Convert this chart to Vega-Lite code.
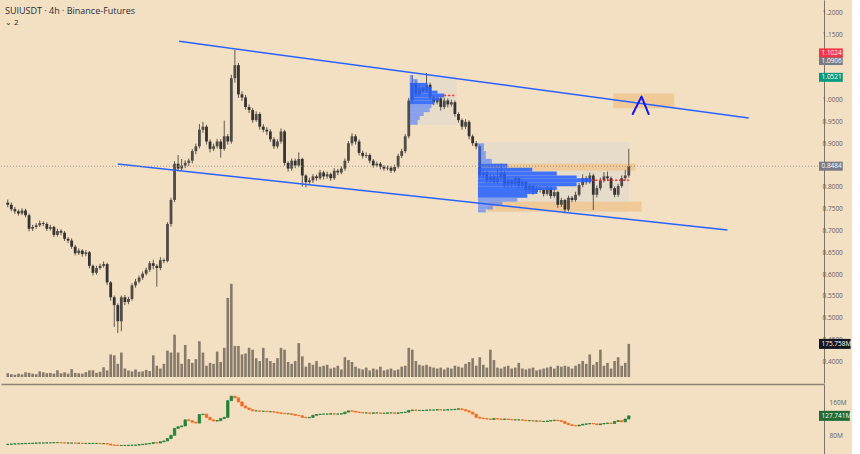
{
"$schema": "https://vega.github.io/schema/vega-lite/v6.json",
"background": "#f3dfc1",
"padding": 0,
"spacing": 1,
"config": {"view": {"stroke": null}, "font": "Open Sans", "axis": {"grid": false}},
"datasets": {
"candles": [
{"t":0,"open":0.765,"high":0.772,"low":0.754,"close":0.760,"volume":20,"oi_open":57.5,"oi_close":58},
{"t":1,"open":0.760,"high":0.765,"low":0.745,"close":0.750,"volume":15,"oi_open":58,"oi_close":58.5},
{"t":2,"open":0.750,"high":0.755,"low":0.739,"close":0.745,"volume":12,"oi_open":58.5,"oi_close":59},
{"t":3,"open":0.745,"high":0.749,"low":0.735,"close":0.740,"volume":18,"oi_open":59,"oi_close":59},
{"t":4,"open":0.740,"high":0.752,"low":0.736,"close":0.747,"volume":14,"oi_open":59,"oi_close":59.5},
{"t":5,"open":0.747,"high":0.751,"low":0.731,"close":0.736,"volume":25,"oi_open":59.5,"oi_close":60},
{"t":6,"open":0.736,"high":0.740,"low":0.699,"close":0.705,"volume":22,"oi_open":60,"oi_close":60},
{"t":7,"open":0.705,"high":0.714,"low":0.700,"close":0.709,"volume":18,"oi_open":60,"oi_close":60.5},
{"t":8,"open":0.709,"high":0.718,"low":0.705,"close":0.713,"volume":15,"oi_open":60.5,"oi_close":61},
{"t":9,"open":0.713,"high":0.724,"low":0.709,"close":0.718,"volume":30,"oi_open":61,"oi_close":61},
{"t":10,"open":0.718,"high":0.722,"low":0.711,"close":0.716,"volume":25,"oi_open":61,"oi_close":61},
{"t":11,"open":0.716,"high":0.720,"low":0.700,"close":0.705,"volume":20,"oi_open":61,"oi_close":61.5},
{"t":12,"open":0.705,"high":0.714,"low":0.701,"close":0.709,"volume":22,"oi_open":61.5,"oi_close":61.5},
{"t":13,"open":0.709,"high":0.712,"low":0.686,"close":0.691,"volume":18,"oi_open":61.5,"oi_close":62},
{"t":14,"open":0.691,"high":0.705,"low":0.687,"close":0.700,"volume":36,"oi_open":62,"oi_close":62},
{"t":15,"open":0.700,"high":0.704,"low":0.690,"close":0.696,"volume":20,"oi_open":62,"oi_close":61.5},
{"t":16,"open":0.696,"high":0.700,"low":0.677,"close":0.682,"volume":25,"oi_open":61.5,"oi_close":61},
{"t":17,"open":0.682,"high":0.686,"low":0.672,"close":0.678,"volume":18,"oi_open":61,"oi_close":61},
{"t":18,"open":0.678,"high":0.683,"low":0.659,"close":0.664,"volume":42,"oi_open":61,"oi_close":61},
{"t":19,"open":0.664,"high":0.668,"low":0.644,"close":0.649,"volume":22,"oi_open":61,"oi_close":60.5},
{"t":20,"open":0.649,"high":0.660,"low":0.645,"close":0.655,"volume":20,"oi_open":60.5,"oi_close":60.5},
{"t":21,"open":0.655,"high":0.658,"low":0.641,"close":0.647,"volume":18,"oi_open":60.5,"oi_close":60},
{"t":22,"open":0.647,"high":0.656,"low":0.642,"close":0.651,"volume":26,"oi_open":60,"oi_close":60},
{"t":23,"open":0.651,"high":0.654,"low":0.614,"close":0.620,"volume":35,"oi_open":60,"oi_close":60},
{"t":24,"open":0.620,"high":0.623,"low":0.598,"close":0.604,"volume":36,"oi_open":60,"oi_close":60},
{"t":25,"open":0.604,"high":0.620,"low":0.600,"close":0.615,"volume":22,"oi_open":60,"oi_close":60},
{"t":26,"open":0.615,"high":0.625,"low":0.611,"close":0.620,"volume":28,"oi_open":60,"oi_close":59.5},
{"t":27,"open":0.620,"high":0.630,"low":0.616,"close":0.624,"volume":52,"oi_open":59.5,"oi_close":59.5},
{"t":28,"open":0.624,"high":0.627,"low":0.576,"close":0.582,"volume":35,"oi_open":59.5,"oi_close":58.5},
{"t":29,"open":0.582,"high":0.585,"low":0.540,"close":0.548,"volume":120,"oi_open":58.5,"oi_close":56},
{"t":30,"open":0.548,"high":0.552,"low":0.480,"close":0.530,"volume":115,"oi_open":56,"oi_close":55.5},
{"t":31,"open":0.530,"high":0.534,"low":0.466,"close":0.493,"volume":70,"oi_open":55.5,"oi_close":55},
{"t":32,"open":0.493,"high":0.552,"low":0.470,"close":0.548,"volume":130,"oi_open":55,"oi_close":55},
{"t":33,"open":0.548,"high":0.553,"low":0.530,"close":0.537,"volume":45,"oi_open":55,"oi_close":55},
{"t":34,"open":0.537,"high":0.549,"low":0.532,"close":0.544,"volume":35,"oi_open":55,"oi_close":55.5},
{"t":35,"open":0.544,"high":0.580,"low":0.540,"close":0.575,"volume":30,"oi_open":55.5,"oi_close":55.5},
{"t":36,"open":0.575,"high":0.590,"low":0.570,"close":0.584,"volume":40,"oi_open":55.5,"oi_close":56},
{"t":37,"open":0.584,"high":0.598,"low":0.580,"close":0.593,"volume":28,"oi_open":56,"oi_close":57},
{"t":38,"open":0.593,"high":0.607,"low":0.588,"close":0.602,"volume":30,"oi_open":57,"oi_close":58},
{"t":39,"open":0.602,"high":0.616,"low":0.598,"close":0.611,"volume":38,"oi_open":58,"oi_close":59},
{"t":40,"open":0.611,"high":0.631,"low":0.606,"close":0.626,"volume":32,"oi_open":59,"oi_close":60},
{"t":41,"open":0.626,"high":0.634,"low":0.612,"close":0.620,"volume":115,"oi_open":60,"oi_close":62},
{"t":42,"open":0.620,"high":0.624,"low":0.572,"close":0.615,"volume":60,"oi_open":62,"oi_close":61},
{"t":43,"open":0.615,"high":0.640,"low":0.610,"close":0.633,"volume":45,"oi_open":61,"oi_close":64},
{"t":44,"open":0.633,"high":0.637,"low":0.626,"close":0.631,"volume":70,"oi_open":64,"oi_close":66},
{"t":45,"open":0.631,"high":0.720,"low":0.628,"close":0.716,"volume":140,"oi_open":66,"oi_close":72},
{"t":46,"open":0.716,"high":0.776,"low":0.710,"close":0.771,"volume":130,"oi_open":72,"oi_close":80},
{"t":47,"open":0.771,"high":0.860,"low":0.766,"close":0.854,"volume":225,"oi_open":80,"oi_close":97},
{"t":48,"open":0.854,"high":0.874,"low":0.838,"close":0.843,"volume":130,"oi_open":97,"oi_close":101},
{"t":49,"open":0.843,"high":0.865,"low":0.838,"close":0.850,"volume":70,"oi_open":101,"oi_close":103},
{"t":50,"open":0.850,"high":0.862,"low":0.844,"close":0.856,"volume":170,"oi_open":103,"oi_close":118},
{"t":51,"open":0.856,"high":0.866,"low":0.849,"close":0.861,"volume":95,"oi_open":118,"oi_close":116},
{"t":52,"open":0.861,"high":0.888,"low":0.855,"close":0.883,"volume":75,"oi_open":116,"oi_close":112},
{"t":53,"open":0.883,"high":0.900,"low":0.876,"close":0.894,"volume":95,"oi_open":112,"oi_close":110},
{"t":54,"open":0.894,"high":0.945,"low":0.889,"close":0.932,"volume":190,"oi_open":110,"oi_close":131},
{"t":55,"open":0.932,"high":0.950,"low":0.925,"close":0.939,"volume":130,"oi_open":131,"oi_close":132},
{"t":56,"open":0.939,"high":0.943,"low":0.898,"close":0.905,"volume":60,"oi_open":132,"oi_close":124},
{"t":57,"open":0.905,"high":0.910,"low":0.880,"close":0.888,"volume":75,"oi_open":124,"oi_close":118},
{"t":58,"open":0.888,"high":0.900,"low":0.883,"close":0.894,"volume":70,"oi_open":118,"oi_close":115},
{"t":59,"open":0.894,"high":0.911,"low":0.889,"close":0.905,"volume":135,"oi_open":115,"oi_close":116},
{"t":60,"open":0.905,"high":0.910,"low":0.868,"close":0.888,"volume":80,"oi_open":116,"oi_close":121},
{"t":61,"open":0.888,"high":0.953,"low":0.884,"close":0.917,"volume":155,"oi_open":121,"oi_close":124},
{"t":62,"open":0.917,"high":0.922,"low":0.898,"close":0.905,"volume":420,"oi_open":124,"oi_close":165},
{"t":63,"open":0.905,"high":1.058,"low":0.900,"close":1.050,"volume":495,"oi_open":165,"oi_close":176},
{"t":64,"open":1.050,"high":1.115,"low":1.040,"close":1.080,"volume":165,"oi_open":176,"oi_close":172},
{"t":65,"open":1.080,"high":1.085,"low":1.005,"close":1.013,"volume":165,"oi_open":172,"oi_close":162},
{"t":66,"open":1.013,"high":1.020,"low":0.998,"close":1.006,"volume":120,"oi_open":162,"oi_close":152},
{"t":67,"open":1.006,"high":1.012,"low":0.978,"close":0.984,"volume":125,"oi_open":152,"oi_close":147},
{"t":68,"open":0.984,"high":0.990,"low":0.970,"close":0.977,"volume":155,"oi_open":147,"oi_close":143},
{"t":69,"open":0.977,"high":0.982,"low":0.948,"close":0.954,"volume":145,"oi_open":143,"oi_close":140},
{"t":70,"open":0.954,"high":0.974,"low":0.950,"close":0.968,"volume":100,"oi_open":140,"oi_close":140},
{"t":71,"open":0.968,"high":0.972,"low":0.932,"close":0.939,"volume":85,"oi_open":140,"oi_close":139},
{"t":72,"open":0.939,"high":0.945,"low":0.926,"close":0.932,"volume":155,"oi_open":139,"oi_close":139},
{"t":73,"open":0.932,"high":0.938,"low":0.920,"close":0.928,"volume":100,"oi_open":139,"oi_close":138},
{"t":74,"open":0.928,"high":0.933,"low":0.904,"close":0.910,"volume":85,"oi_open":138,"oi_close":138},
{"t":75,"open":0.910,"high":0.915,"low":0.888,"close":0.894,"volume":75,"oi_open":138,"oi_close":137},
{"t":76,"open":0.894,"high":0.910,"low":0.889,"close":0.905,"volume":100,"oi_open":137,"oi_close":135},
{"t":77,"open":0.905,"high":0.935,"low":0.900,"close":0.928,"volume":155,"oi_open":135,"oi_close":134},
{"t":78,"open":0.928,"high":0.932,"low":0.850,"close":0.856,"volume":145,"oi_open":134,"oi_close":133},
{"t":79,"open":0.856,"high":0.860,"low":0.836,"close":0.843,"volume":80,"oi_open":133,"oi_close":133},
{"t":80,"open":0.843,"high":0.866,"low":0.838,"close":0.861,"volume":70,"oi_open":133,"oi_close":131},
{"t":81,"open":0.861,"high":0.866,"low":0.844,"close":0.850,"volume":85,"oi_open":131,"oi_close":129},
{"t":82,"open":0.850,"high":0.880,"low":0.846,"close":0.865,"volume":180,"oi_open":129,"oi_close":128},
{"t":83,"open":0.865,"high":0.868,"low":0.802,"close":0.827,"volume":110,"oi_open":128,"oi_close":124},
{"t":84,"open":0.827,"high":0.830,"low":0.800,"close":0.812,"volume":55,"oi_open":124,"oi_close":123},
{"t":85,"open":0.812,"high":0.822,"low":0.806,"close":0.816,"volume":75,"oi_open":123,"oi_close":124},
{"t":86,"open":0.816,"high":0.830,"low":0.810,"close":0.825,"volume":65,"oi_open":124,"oi_close":129},
{"t":87,"open":0.825,"high":0.829,"low":0.815,"close":0.821,"volume":85,"oi_open":129,"oi_close":131},
{"t":88,"open":0.821,"high":0.840,"low":0.817,"close":0.834,"volume":55,"oi_open":131,"oi_close":132},
{"t":89,"open":0.834,"high":0.838,"low":0.818,"close":0.825,"volume":60,"oi_open":132,"oi_close":132},
{"t":90,"open":0.825,"high":0.836,"low":0.820,"close":0.830,"volume":65,"oi_open":132,"oi_close":132},
{"t":91,"open":0.830,"high":0.834,"low":0.815,"close":0.821,"volume":45,"oi_open":132,"oi_close":133},
{"t":92,"open":0.821,"high":0.844,"low":0.817,"close":0.838,"volume":50,"oi_open":133,"oi_close":132},
{"t":93,"open":0.838,"high":0.842,"low":0.828,"close":0.834,"volume":60,"oi_open":132,"oi_close":132},
{"t":94,"open":0.834,"high":0.848,"low":0.830,"close":0.843,"volume":40,"oi_open":132,"oi_close":133},
{"t":95,"open":0.843,"high":0.866,"low":0.838,"close":0.861,"volume":105,"oi_open":133,"oi_close":137},
{"t":96,"open":0.861,"high":0.906,"low":0.856,"close":0.901,"volume":90,"oi_open":137,"oi_close":140},
{"t":97,"open":0.901,"high":0.924,"low":0.895,"close":0.917,"volume":80,"oi_open":140,"oi_close":139},
{"t":98,"open":0.917,"high":0.922,"low":0.898,"close":0.905,"volume":55,"oi_open":139,"oi_close":137},
{"t":99,"open":0.905,"high":0.910,"low":0.873,"close":0.879,"volume":45,"oi_open":137,"oi_close":136},
{"t":100,"open":0.879,"high":0.884,"low":0.866,"close":0.872,"volume":40,"oi_open":136,"oi_close":135},
{"t":101,"open":0.872,"high":0.880,"low":0.867,"close":0.874,"volume":50,"oi_open":135,"oi_close":135},
{"t":102,"open":0.874,"high":0.878,"low":0.855,"close":0.861,"volume":35,"oi_open":135,"oi_close":134},
{"t":103,"open":0.861,"high":0.865,"low":0.845,"close":0.850,"volume":45,"oi_open":134,"oi_close":135},
{"t":104,"open":0.850,"high":0.859,"low":0.846,"close":0.854,"volume":40,"oi_open":135,"oi_close":135},
{"t":105,"open":0.854,"high":0.858,"low":0.841,"close":0.847,"volume":55,"oi_open":135,"oi_close":134},
{"t":106,"open":0.847,"high":0.851,"low":0.838,"close":0.843,"volume":35,"oi_open":134,"oi_close":134},
{"t":107,"open":0.843,"high":0.850,"low":0.839,"close":0.845,"volume":40,"oi_open":134,"oi_close":135},
{"t":108,"open":0.845,"high":0.849,"low":0.833,"close":0.838,"volume":45,"oi_open":135,"oi_close":135},
{"t":109,"open":0.838,"high":0.852,"low":0.834,"close":0.847,"volume":35,"oi_open":135,"oi_close":134},
{"t":110,"open":0.847,"high":0.877,"low":0.843,"close":0.872,"volume":40,"oi_open":134,"oi_close":135},
{"t":111,"open":0.872,"high":0.888,"low":0.867,"close":0.883,"volume":55,"oi_open":135,"oi_close":136},
{"t":112,"open":0.883,"high":0.922,"low":0.878,"close":0.917,"volume":60,"oi_open":136,"oi_close":137},
{"t":113,"open":0.917,"high":1.005,"low":0.912,"close":0.999,"volume":155,"oi_open":137,"oi_close":141},
{"t":114,"open":0.999,"high":1.057,"low":0.993,"close":1.039,"volume":145,"oi_open":141,"oi_close":142},
{"t":115,"open":1.039,"high":1.045,"low":1.006,"close":1.013,"volume":85,"oi_open":142,"oi_close":141},
{"t":116,"open":1.013,"high":1.034,"low":1.008,"close":1.028,"volume":65,"oi_open":141,"oi_close":141},
{"t":117,"open":1.028,"high":1.033,"low":1.015,"close":1.021,"volume":60,"oi_open":141,"oi_close":141},
{"t":118,"open":1.021,"high":1.062,"low":1.016,"close":1.035,"volume":65,"oi_open":141,"oi_close":142},
{"t":119,"open":1.035,"high":1.040,"low":1.000,"close":1.006,"volume":55,"oi_open":142,"oi_close":142},
{"t":120,"open":1.006,"high":1.011,"low":0.988,"close":0.995,"volume":50,"oi_open":142,"oi_close":142},
{"t":121,"open":0.995,"high":1.010,"low":0.990,"close":1.004,"volume":45,"oi_open":142,"oi_close":143},
{"t":122,"open":1.004,"high":1.008,"low":0.976,"close":0.984,"volume":50,"oi_open":143,"oi_close":142},
{"t":123,"open":0.984,"high":1.005,"low":0.979,"close":0.999,"volume":40,"oi_open":142,"oi_close":142},
{"t":124,"open":0.999,"high":1.004,"low":0.983,"close":0.990,"volume":50,"oi_open":142,"oi_close":143},
{"t":125,"open":0.990,"high":1.001,"low":0.985,"close":0.995,"volume":45,"oi_open":143,"oi_close":143},
{"t":126,"open":0.995,"high":0.999,"low":0.962,"close":0.968,"volume":60,"oi_open":143,"oi_close":144},
{"t":127,"open":0.968,"high":0.972,"low":0.948,"close":0.954,"volume":55,"oi_open":144,"oi_close":145},
{"t":128,"open":0.954,"high":0.958,"low":0.932,"close":0.939,"volume":50,"oi_open":145,"oi_close":143},
{"t":129,"open":0.939,"high":0.956,"low":0.934,"close":0.950,"volume":70,"oi_open":143,"oi_close":140},
{"t":130,"open":0.950,"high":0.954,"low":0.910,"close":0.917,"volume":80,"oi_open":140,"oi_close":137},
{"t":131,"open":0.917,"high":0.921,"low":0.895,"close":0.901,"volume":100,"oi_open":137,"oi_close":132},
{"t":132,"open":0.901,"high":0.906,"low":0.887,"close":0.894,"volume":60,"oi_open":132,"oi_close":124},
{"t":133,"open":0.894,"high":0.898,"low":0.820,"close":0.827,"volume":105,"oi_open":124,"oi_close":122},
{"t":134,"open":0.827,"high":0.840,"low":0.820,"close":0.834,"volume":65,"oi_open":122,"oi_close":121},
{"t":135,"open":0.834,"high":0.838,"low":0.810,"close":0.816,"volume":50,"oi_open":121,"oi_close":120},
{"t":136,"open":0.816,"high":0.831,"low":0.810,"close":0.825,"volume":145,"oi_open":120,"oi_close":119},
{"t":137,"open":0.825,"high":0.829,"low":0.806,"close":0.812,"volume":90,"oi_open":119,"oi_close":121},
{"t":138,"open":0.812,"high":0.843,"low":0.807,"close":0.821,"volume":50,"oi_open":121,"oi_close":120},
{"t":139,"open":0.821,"high":0.854,"low":0.816,"close":0.834,"volume":45,"oi_open":120,"oi_close":119},
{"t":140,"open":0.834,"high":0.838,"low":0.799,"close":0.805,"volume":55,"oi_open":119,"oi_close":120},
{"t":141,"open":0.805,"high":0.822,"low":0.800,"close":0.816,"volume":60,"oi_open":120,"oi_close":119},
{"t":142,"open":0.816,"high":0.820,"low":0.801,"close":0.807,"volume":45,"oi_open":119,"oi_close":118},
{"t":143,"open":0.807,"high":0.826,"low":0.802,"close":0.821,"volume":50,"oi_open":118,"oi_close":118},
{"t":144,"open":0.821,"high":0.825,"low":0.797,"close":0.803,"volume":75,"oi_open":118,"oi_close":118},
{"t":145,"open":0.803,"high":0.818,"low":0.798,"close":0.812,"volume":45,"oi_open":118,"oi_close":117},
{"t":146,"open":0.812,"high":0.816,"low":0.788,"close":0.794,"volume":40,"oi_open":117,"oi_close":116},
{"t":147,"open":0.794,"high":0.808,"low":0.789,"close":0.803,"volume":45,"oi_open":116,"oi_close":116},
{"t":148,"open":0.803,"high":0.807,"low":0.783,"close":0.789,"volume":50,"oi_open":116,"oi_close":115},
{"t":149,"open":0.789,"high":0.803,"low":0.785,"close":0.798,"volume":35,"oi_open":115,"oi_close":115},
{"t":150,"open":0.798,"high":0.802,"low":0.788,"close":0.794,"volume":40,"oi_open":115,"oi_close":114},
{"t":151,"open":0.794,"high":0.798,"low":0.779,"close":0.785,"volume":45,"oi_open":114,"oi_close":114},
{"t":152,"open":0.785,"high":0.803,"low":0.781,"close":0.798,"volume":50,"oi_open":114,"oi_close":115},
{"t":153,"open":0.798,"high":0.802,"low":0.774,"close":0.780,"volume":55,"oi_open":115,"oi_close":116},
{"t":154,"open":0.780,"high":0.795,"low":0.776,"close":0.789,"volume":45,"oi_open":116,"oi_close":117},
{"t":155,"open":0.789,"high":0.792,"low":0.753,"close":0.760,"volume":60,"oi_open":117,"oi_close":116},
{"t":156,"open":0.760,"high":0.776,"low":0.755,"close":0.771,"volume":55,"oi_open":116,"oi_close":114},
{"t":157,"open":0.771,"high":0.774,"low":0.740,"close":0.749,"volume":60,"oi_open":114,"oi_close":109},
{"t":158,"open":0.749,"high":0.781,"low":0.745,"close":0.776,"volume":55,"oi_open":109,"oi_close":106},
{"t":159,"open":0.776,"high":0.780,"low":0.766,"close":0.771,"volume":45,"oi_open":106,"oi_close":104},
{"t":160,"open":0.771,"high":0.790,"low":0.767,"close":0.783,"volume":60,"oi_open":104,"oi_close":103},
{"t":161,"open":0.783,"high":0.810,"low":0.779,"close":0.805,"volume":70,"oi_open":103,"oi_close":105},
{"t":162,"open":0.805,"high":0.830,"low":0.800,"close":0.821,"volume":85,"oi_open":105,"oi_close":107},
{"t":163,"open":0.821,"high":0.826,"low":0.806,"close":0.812,"volume":70,"oi_open":107,"oi_close":108},
{"t":164,"open":0.812,"high":0.834,"low":0.808,"close":0.827,"volume":120,"oi_open":108,"oi_close":109},
{"t":165,"open":0.827,"high":0.831,"low":0.748,"close":0.783,"volume":65,"oi_open":109,"oi_close":108},
{"t":166,"open":0.783,"high":0.804,"low":0.777,"close":0.798,"volume":80,"oi_open":108,"oi_close":106},
{"t":167,"open":0.798,"high":0.822,"low":0.793,"close":0.816,"volume":145,"oi_open":106,"oi_close":108},
{"t":168,"open":0.816,"high":0.835,"low":0.811,"close":0.825,"volume":60,"oi_open":108,"oi_close":109},
{"t":169,"open":0.825,"high":0.836,"low":0.815,"close":0.821,"volume":75,"oi_open":109,"oi_close":110},
{"t":170,"open":0.821,"high":0.825,"low":0.792,"close":0.798,"volume":45,"oi_open":110,"oi_close":109},
{"t":171,"open":0.798,"high":0.802,"low":0.777,"close":0.783,"volume":85,"oi_open":109,"oi_close":114},
{"t":172,"open":0.783,"high":0.808,"low":0.778,"close":0.803,"volume":105,"oi_open":114,"oi_close":116},
{"t":173,"open":0.803,"high":0.827,"low":0.799,"close":0.821,"volume":60,"oi_open":116,"oi_close":113},
{"t":174,"open":0.821,"high":0.840,"low":0.816,"close":0.827,"volume":75,"oi_open":113,"oi_close":120},
{"t":175,"open":0.827,"high":0.888,"low":0.822,"close":0.8484,"volume":175.758,"oi_open":120,"oi_close":127.741}
],
"profile": [
{"profile":1,"t0":113.3,"t1":114.1,"p0":1.0572,"p1":1.0483,"va":"out"},
{"profile":1,"t0":113.3,"t1":115.5,"p0":1.0483,"p1":1.0393,"va":"out"},
{"profile":1,"t0":113.3,"t1":118.3,"p0":1.0393,"p1":1.0304,"va":"in"},
{"profile":1,"t0":113.3,"t1":119.4,"p0":1.0304,"p1":1.0215,"va":"in"},
{"profile":1,"t0":113.3,"t1":121.1,"p0":1.0215,"p1":1.0148,"va":"in"},
{"profile":1,"t0":113.3,"t1":123.0,"p0":1.0148,"p1":1.0058,"va":"in"},
{"profile":1,"t0":113.3,"t1":121.6,"p0":1.0058,"p1":0.9992,"va":"in"},
{"profile":1,"t0":113.3,"t1":120.2,"p0":0.9992,"p1":0.9902,"va":"in"},
{"profile":1,"t0":113.3,"t1":119.4,"p0":0.9902,"p1":0.9813,"va":"out"},
{"profile":1,"t0":113.3,"t1":118.9,"p0":0.9813,"p1":0.9723,"va":"out"},
{"profile":1,"t0":113.3,"t1":117.2,"p0":0.9723,"p1":0.9634,"va":"out"},
{"profile":1,"t0":113.3,"t1":116.1,"p0":0.9634,"p1":0.9545,"va":"out"},
{"profile":1,"t0":113.3,"t1":115.5,"p0":0.9545,"p1":0.9433,"va":"out"},
{"profile":2,"t0":132.5,"t1":134.2,"p0":0.9009,"p1":0.8831,"va":"out"},
{"profile":2,"t0":132.5,"t1":134.7,"p0":0.8831,"p1":0.8652,"va":"out"},
{"profile":2,"t0":132.5,"t1":136.4,"p0":0.8652,"p1":0.8541,"va":"out"},
{"profile":2,"t0":132.5,"t1":140.8,"p0":0.8541,"p1":0.8451,"va":"in"},
{"profile":2,"t0":132.5,"t1":147.8,"p0":0.8451,"p1":0.8362,"va":"in"},
{"profile":2,"t0":132.5,"t1":154.7,"p0":0.8362,"p1":0.8273,"va":"in"},
{"profile":2,"t0":132.5,"t1":160.3,"p0":0.8273,"p1":0.8206,"va":"in"},
{"profile":2,"t0":132.5,"t1":164.4,"p0":0.8206,"p1":0.8117,"va":"in"},
{"profile":2,"t0":132.5,"t1":160.3,"p0":0.8117,"p1":0.8027,"va":"in"},
{"profile":2,"t0":132.5,"t1":154.7,"p0":0.8027,"p1":0.7938,"va":"in"},
{"profile":2,"t0":132.5,"t1":149.2,"p0":0.7938,"p1":0.7849,"va":"in"},
{"profile":2,"t0":132.5,"t1":146.4,"p0":0.7849,"p1":0.7759,"va":"in"},
{"profile":2,"t0":132.5,"t1":143.6,"p0":0.7759,"p1":0.7670,"va":"out"},
{"profile":2,"t0":132.5,"t1":139.4,"p0":0.7670,"p1":0.7581,"va":"out"},
{"profile":2,"t0":132.5,"t1":136.7,"p0":0.7581,"p1":0.7491,"va":"out"},
{"profile":2,"t0":132.5,"t1":134.7,"p0":0.7491,"p1":0.7425,"va":"out"}
],
"zones": [
{"kind":"range","t0":113.3,"t1":126.4,"p0":1.0572,"p1":0.9433},
{"kind":"range","t0":132.5,"t1":175.0,"p0":0.9032,"p1":0.7425},
{"kind":"zone","t0":132.5,"t1":176.9,"p0":0.8541,"p1":0.8385},
{"kind":"zone","t0":135.3,"t1":178.6,"p0":0.7670,"p1":0.7447},
{"kind":"zone","t0":170.6,"t1":187.8,"p0":1.0148,"p1":0.9813}
],
"poc": [
{"profile":1,"t0":123.0,"t1":126.4,"price":1.0103},
{"profile":2,"t0":164.4,"t1":175.0,"price":0.8161}
],
"last": [{"price":0.8484}],
"channel": [
{"line":"upper","t":48.3,"price":1.1346},
{"line":"upper","t":208.8,"price":0.959},
{"line":"lower","t":31.0,"price":0.8534},
{"line":"lower","t":202.8,"price":0.7023}
],
"marker": [
{"step":1,"t":176.1,"price":0.9679},
{"step":2,"t":178.6,"price":1.0081},
{"step":3,"t":180.6,"price":0.9679}
],
"price_labels": [
{"price":0.40},{"price":0.45},{"price":0.50},{"price":0.55},{"price":0.60},{"price":0.65},{"price":0.70},{"price":0.75},{"price":0.80},{"price":0.90},{"price":0.95},{"price":1.00},{"price":1.15},{"price":1.20}
],
"tags": [
{"label":"1.1024","price":1.1024,"kind":"high"},
{"label":"1.0906","price":1.0906,"kind":"level"},
{"label":"1.0521","price":1.0521,"kind":"open"},
{"label":"0.8484","price":0.8484,"kind":"level"}
],
"volume_tag": [{"label":"175.758M","volume":175.758}],
"oi_tag": [{"label":"127.741M","oi":127.741}]
},
"vconcat": [
{
"width": 823,
"height": 383,
"title": {"text": "SUIUSDT · 4h · Binance-Futures", "subtitle": "⌄ 2", "anchor": "start", "frame": "group", "offset": -27, "dx": 4, "fontSize": 9, "fontWeight": "normal", "color": "#2a2e39", "subtitleFontSize": 8, "subtitleColor": "#2a2e39", "subtitlePadding": 3},
"resolve": {"scale": {"y": "independent"}},
"layer": [
{
"layer": [
{"data": {"name": "zones"}, "mark": {"type": "rect"},
 "encoding": {
  "x": {"field": "t0", "type": "quantitative", "scale": {"domain": [-0.5, 228.6], "nice": false, "zero": false}, "axis": null},
  "x2": {"field": "t1"},
  "y": {"field": "p0", "type": "quantitative", "scale": {"domain": [0.3629, 1.2179], "nice": false, "zero": false},
   "axis": {"orient": "right", "labels": false, "ticks": false, "domain": true, "domainColor": "#7d756a", "domainWidth": 1, "grid": false, "title": null}},
  "y2": {"field": "p1"},
  "color": {"condition": {"test": "datum.kind == 'zone'", "value": "#f0c58e"}, "value": "#e5dccb"},
  "opacity": {"condition": {"test": "datum.kind == 'zone'", "value": 0.85}, "value": 0.9}}},
{"data": {"name": "price_labels"}, "mark": {"type": "text", "align": "left", "baseline": "middle", "fontSize": 6.5, "color": "#5d606b"},
 "encoding": {
  "x": {"datum": 229.6, "type": "quantitative", "scale": {"domain": [-0.5, 228.6], "nice": false, "zero": false}, "axis": null},
  "y": {"field": "price", "type": "quantitative", "scale": {"domain": [0.3629, 1.2179], "nice": false, "zero": false}},
  "text": {"field": "price", "type": "quantitative", "format": ".4f"}}},
{"data": {"name": "candles"}, "mark": {"type": "rule", "color": "#5e5850", "strokeWidth": 1},
 "encoding": {
  "x": {"field": "t", "type": "quantitative", "scale": {"domain": [-0.5, 228.6], "nice": false, "zero": false}, "axis": null},
  "y": {"field": "low", "type": "quantitative", "scale": {"domain": [0.3629, 1.2179], "nice": false, "zero": false}},
  "y2": {"field": "high"}}},
{"data": {"name": "candles"}, "mark": {"type": "bar", "size": 2.8},
 "encoding": {
  "x": {"field": "t", "type": "quantitative", "scale": {"domain": [-0.5, 228.6], "nice": false, "zero": false}, "axis": null},
  "y": {"field": "open", "type": "quantitative", "scale": {"domain": [0.3629, 1.2179], "nice": false, "zero": false}},
  "y2": {"field": "close"},
  "color": {"condition": {"test": "datum.close >= datum.open", "value": "#4f4b47"}, "value": "#333333"}}},
{"data": {"name": "profile"}, "mark": {"type": "rect"},
 "encoding": {
  "x": {"field": "t0", "type": "quantitative", "scale": {"domain": [-0.5, 228.6], "nice": false, "zero": false}, "axis": null},
  "x2": {"field": "t1"},
  "y": {"field": "p0", "type": "quantitative", "scale": {"domain": [0.3629, 1.2179], "nice": false, "zero": false}},
  "y2": {"field": "p1"},
  "color": {"condition": {"test": "datum.va == 'in'", "value": "#2962ff"}, "value": "#4a78ff"},
  "opacity": {"condition": {"test": "datum.va == 'in'", "value": 0.88}, "value": 0.6}}},
{"data": {"name": "channel"}, "mark": {"type": "line", "color": "#2962ff", "strokeWidth": 1.5},
 "encoding": {
  "x": {"field": "t", "type": "quantitative", "scale": {"domain": [-0.5, 228.6], "nice": false, "zero": false}, "axis": null},
  "y": {"field": "price", "type": "quantitative", "scale": {"domain": [0.3629, 1.2179], "nice": false, "zero": false}},
  "detail": {"field": "line"}}},
{"data": {"name": "poc"}, "mark": {"type": "rule", "color": "#ff1f1f", "strokeWidth": 1.5, "strokeDash": [2, 2]},
 "encoding": {
  "x": {"field": "t0", "type": "quantitative", "scale": {"domain": [-0.5, 228.6], "nice": false, "zero": false}, "axis": null},
  "x2": {"field": "t1"},
  "y": {"field": "price", "type": "quantitative", "scale": {"domain": [0.3629, 1.2179], "nice": false, "zero": false}}}},
{"data": {"name": "last"}, "mark": {"type": "rule", "color": "#9b958c", "strokeWidth": 1, "strokeDash": [1, 2]},
 "encoding": {
  "y": {"field": "price", "type": "quantitative", "scale": {"domain": [0.3629, 1.2179], "nice": false, "zero": false}}}},
{"data": {"name": "marker"}, "mark": {"type": "line", "color": "#1515ee", "strokeWidth": 2, "strokeCap": "round", "strokeJoin": "round"},
 "encoding": {
  "x": {"field": "t", "type": "quantitative", "scale": {"domain": [-0.5, 228.6], "nice": false, "zero": false}, "axis": null},
  "y": {"field": "price", "type": "quantitative", "scale": {"domain": [0.3629, 1.2179], "nice": false, "zero": false}},
  "order": {"field": "step"}}},
{"data": {"name": "tags"}, "transform": [{"filter": "datum.kind != 'high'"}], "mark": {"type": "bar", "size": 9},
 "encoding": {
  "x": {"datum": 228.6, "type": "quantitative", "scale": {"domain": [-0.5, 228.6], "nice": false, "zero": false}, "axis": null},
  "x2": {"datum": 235.3},
  "y": {"field": "price", "type": "quantitative", "scale": {"domain": [0.3629, 1.2179], "nice": false, "zero": false}},
  "color": {"condition": {"test": "datum.kind == 'open'", "value": "#089981"}, "value": "#787b86"}}},
{"data": {"name": "tags"}, "transform": [{"filter": "datum.kind != 'high'"}], "mark": {"type": "text", "align": "left", "baseline": "middle", "fontSize": 6.5, "color": "#ffffff"},
 "encoding": {
  "x": {"datum": 229.3, "type": "quantitative", "scale": {"domain": [-0.5, 228.6], "nice": false, "zero": false}, "axis": null},
  "y": {"field": "price", "type": "quantitative", "scale": {"domain": [0.3629, 1.2179], "nice": false, "zero": false}},
  "text": {"field": "label"}}},
{"data": {"name": "tags"}, "transform": [{"filter": "datum.kind == 'high'"}], "mark": {"type": "bar", "size": 9, "yOffset": -2.5, "color": "#f23645"},
 "encoding": {
  "x": {"datum": 228.6, "type": "quantitative", "scale": {"domain": [-0.5, 228.6], "nice": false, "zero": false}, "axis": null},
  "x2": {"datum": 235.3},
  "y": {"field": "price", "type": "quantitative", "scale": {"domain": [0.3629, 1.2179], "nice": false, "zero": false}}}},
{"data": {"name": "tags"}, "transform": [{"filter": "datum.kind == 'high'"}], "mark": {"type": "text", "align": "left", "baseline": "middle", "fontSize": 6.5, "color": "#ffffff", "yOffset": -2.5},
 "encoding": {
  "x": {"datum": 229.3, "type": "quantitative", "scale": {"domain": [-0.5, 228.6], "nice": false, "zero": false}, "axis": null},
  "y": {"field": "price", "type": "quantitative", "scale": {"domain": [0.3629, 1.2179], "nice": false, "zero": false}},
  "text": {"field": "label"}}}
]
},
{
"layer": [
{"data": {"name": "candles"}, "mark": {"type": "bar", "size": 2.6, "color": "#7a6f62", "opacity": 0.9},
 "encoding": {
  "x": {"field": "t", "type": "quantitative", "scale": {"domain": [-0.5, 228.6], "nice": false, "zero": false}, "axis": null},
  "y": {"field": "volume", "type": "quantitative", "scale": {"domain": [-5.2, 1975], "nice": false, "zero": false}, "axis": null},
  "y2": {"datum": 0}}},
{"data": {"name": "volume_tag"}, "mark": {"type": "bar", "size": 10, "color": "#131722"},
 "encoding": {
  "x": {"datum": 228.6, "type": "quantitative", "scale": {"domain": [-0.5, 228.6], "nice": false, "zero": false}, "axis": null},
  "x2": {"datum": 237.5},
  "y": {"field": "volume", "type": "quantitative", "scale": {"domain": [-5.2, 1975], "nice": false, "zero": false}, "axis": null}}},
{"data": {"name": "volume_tag"}, "mark": {"type": "text", "align": "left", "baseline": "middle", "fontSize": 6.5, "color": "#ffffff"},
 "encoding": {
  "x": {"datum": 229.3, "type": "quantitative", "scale": {"domain": [-0.5, 228.6], "nice": false, "zero": false}, "axis": null},
  "y": {"field": "volume", "type": "quantitative", "scale": {"domain": [-5.2, 1975], "nice": false, "zero": false}, "axis": null},
  "text": {"field": "label"}}}
]
}
]
},
{
"width": 823,
"height": 70,
"layer": [
{"data": {"name": "candles"}, "mark": {"type": "bar", "size": 2.4, "strokeWidth": 0.8},
 "encoding": {
  "x": {"field": "t", "type": "quantitative", "scale": {"domain": [-0.5, 228.6], "nice": false, "zero": false},
   "axis": {"orient": "top", "labels": false, "ticks": false, "domain": true, "domainColor": "#8c8374", "domainWidth": 1.5, "grid": false, "title": null}},
  "y": {"field": "oi_open", "type": "quantitative", "scale": {"domain": [46.3, 193.7], "nice": false, "zero": false},
   "axis": {"orient": "right", "values": [80, 160], "labelExpr": "datum.value + 'M'", "labelFontSize": 6.5, "labelColor": "#5d606b", "ticks": false, "domain": true, "domainColor": "#7d756a", "grid": false, "title": null, "labelPadding": 5}},
  "y2": {"field": "oi_close"},
  "color": {"condition": {"test": "datum.oi_close >= datum.oi_open", "value": "#24803a"}, "value": "#f36b1c"},
  "stroke": {"condition": {"test": "datum.oi_close >= datum.oi_open", "value": "#24803a"}, "value": "#f36b1c"}}},
{"data": {"name": "oi_tag"}, "mark": {"type": "bar", "size": 10, "color": "#1f6b33"},
 "encoding": {
  "x": {"datum": 228.6, "type": "quantitative", "scale": {"domain": [-0.5, 228.6], "nice": false, "zero": false}},
  "x2": {"datum": 237.3},
  "y": {"field": "oi", "type": "quantitative", "scale": {"domain": [46.3, 193.7], "nice": false, "zero": false}}}},
{"data": {"name": "oi_tag"}, "mark": {"type": "text", "align": "left", "baseline": "middle", "fontSize": 6.5, "color": "#ffffff"},
 "encoding": {
  "x": {"datum": 229.3, "type": "quantitative", "scale": {"domain": [-0.5, 228.6], "nice": false, "zero": false}},
  "y": {"field": "oi", "type": "quantitative", "scale": {"domain": [46.3, 193.7], "nice": false, "zero": false}},
  "text": {"field": "label"}}}
]
}
]
}
